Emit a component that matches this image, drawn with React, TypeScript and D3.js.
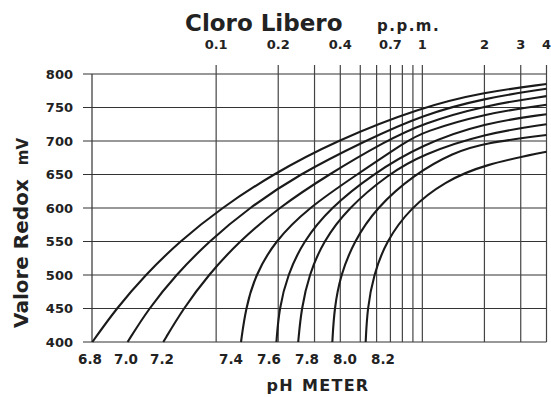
import * as d3 from 'd3';

// chlorine (ppm) grid + labels
const ppmGrid = [0.1, 0.2, 0.3, 0.4, 0.5, 0.6, 0.7, 0.8, 0.9, 1, 2, 3, 4];
const ppmLabels = [0.1, 0.2, 0.4, 0.7, 1, 2, 3, 4];
const mvTicks = [400, 450, 500, 550, 600, 650, 700, 750, 800];
const phNames = ['6.8', '7.0', '7.2', '7.4', '7.6', '7.8', '8.0', '8.2'];

// curves: free chlorine (ppm) -> redox (mV)
const ppm68 = [0.0251, 0.0328, 0.0453, 0.0663, 0.106, 0.187, 0.378, 0.977, 2, 4];
const mv68 = [400, 450, 500, 550, 600, 650, 700, 750, 773, 785];
const ppm70 = [0.0372, 0.0471, 0.0637, 0.092, 0.144, 0.251, 0.525, 1, 2, 4];
const mv70 = [400, 450, 500, 550, 600, 650, 700, 739, 764, 778];
const ppm72 = [0.0554, 0.0693, 0.0916, 0.129, 0.2, 0.35, 0.666, 1, 2, 4];
const mv72 = [400, 450, 500, 550, 600, 650, 700, 726, 753, 767];
const ppm74 = [0.132, 0.139, 0.155, 0.192, 0.279, 0.482, 0.842, 1, 2, 4];
const mv74 = [400, 450, 500, 550, 600, 650, 700, 713, 741, 754];
const ppm76 = [0.196, 0.202, 0.222, 0.264, 0.357, 0.57, 1, 2, 4];
const mv76 = [400, 450, 500, 550, 600, 650, 695, 727, 740];
const ppm78 = [0.25, 0.259, 0.282, 0.33, 0.436, 0.681, 1, 2, 4];
const mv78 = [400, 450, 500, 550, 600, 650, 680, 711, 725];
const ppm80 = [0.366, 0.374, 0.401, 0.466, 0.596, 0.911, 1.42, 2, 4];
const mv80 = [400, 450, 500, 550, 600, 650, 683, 697, 709];
const ppm82 = [0.531, 0.541, 0.58, 0.666, 0.872, 1.29, 2, 4];
const mv82 = [400, 450, 500, 550, 600, 640, 665, 684];

const curves = [
  [ppm68, mv68], [ppm70, mv70], [ppm72, mv72], [ppm74, mv74],
  [ppm76, mv76], [ppm78, mv78], [ppm80, mv80], [ppm82, mv82],
];

const W = 551;
const H = 397;
const FONT = '"DejaVu Sans", sans-serif';
const INK = '#222';

export default function App() {
  const x = d3.scaleLog().domain([0.025, 4]).range([92, 546.5]);
  const y = d3.scaleLinear().domain([400, 800]).range([342, 74]);
  // pH labels sit under the curves, spaced evenly in two groups
  const phX = d3.scaleLinear().domain([6.8, 7.2, 7.4, 8.2]).range([90, 162, 231, 383]);

  const [x0, x1] = x.range();
  const yTop = y(800);
  const yBot = y(400);
  const tick = 9;

  const line = d3
    .line<[number, number]>()
    .x(d => x(d[0]))
    .y(d => y(d[1]))
    .curve(d3.curveBasis);

  return (
    <svg
      width={W}
      height={H}
      style={{ position: 'absolute', left: 0, top: 0, background: '#fff' }}
      fontFamily={FONT}
    >
      {/* horizontal grid */}
      {mvTicks.map(v => (
        <line key={'h' + v} x1={x0 - tick} x2={x1} y1={y(v)} y2={y(v)} stroke="#333" strokeWidth={1.2} />
      ))}
      {/* left frame */}
      <line x1={x0} x2={x0} y1={yTop} y2={yBot} stroke="#333" strokeWidth={1.2} />
      {/* vertical grid */}
      {ppmGrid.map(v => (
        <line key={'v' + v} x1={x(v)} x2={x(v)} y1={yTop - tick} y2={yBot} stroke="#444" strokeWidth={1.2} />
      ))}

      {/* curves */}
      {curves.map(([ppm, mv], i) => (
        <path
          key={phNames[i]}
          d={line(ppm.map((p, j) => [p, mv[j]] as [number, number])) || ''}
          fill="none"
          stroke="#1a1a1a"
          strokeWidth={2.1}
        />
      ))}

      {/* y tick labels */}
      {mvTicks.map(v => (
        <text key={'yl' + v} x={73} y={y(v) + 4.6} textAnchor="end" fontSize={13} fontWeight="bold" fill={INK}>
          {v}
        </text>
      ))}

      {/* top ppm labels */}
      {ppmLabels.map(v => (
        <text key={'xl' + v} x={x(v)} y={49} textAnchor="middle" fontSize={13} fontWeight="bold" fill={INK}>
          {v}
        </text>
      ))}

      {/* pH labels */}
      {phNames.map(p => (
        <text key={'ph' + p} x={phX(+p)} y={364} textAnchor="middle" fontSize={13.5} fontWeight="bold" fill={INK}>
          {p}
        </text>
      ))}

      {/* titles */}
      <text x={185} y={31} fontSize={23} fontWeight="bold" fill={INK}>
        Cloro Libero
      </text>
      <text x={377} y={31} fontSize={15} fontWeight="bold" letterSpacing={1.5} fill={INK}>
        p.p.m.
      </text>
      <text x={318} y={391} textAnchor="middle" fontSize={16} fontWeight="bold" letterSpacing={1.3} fill={INK}>
        pH<tspan dx={8}>METER</tspan>
      </text>
      <g transform="translate(28,328) rotate(-90)">
        <text x={0} y={0} fontSize={20} fontWeight="bold" fill={INK}>
          Valore Redox
          <tspan dx={14} fontSize={15}>mV</tspan>
        </text>
      </g>
    </svg>
  );
}
